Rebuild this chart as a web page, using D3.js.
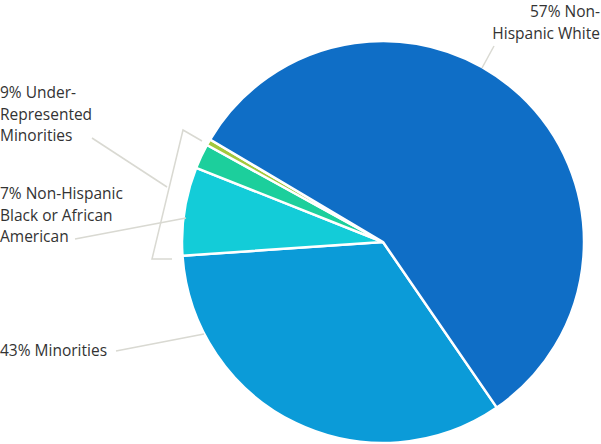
<!DOCTYPE html>
<html><head><meta charset="utf-8">
<script src="https://cdn.jsdelivr.net/npm/d3@7"></script>
<style>body{margin:0;background:#fff}svg{display:block}</style>
</head><body>
<script>
const categories = ["Minorities", "Non-Hispanic Black or African American", "Other A", "Other B", "Non-Hispanic White"];
const values = [33.5, 7.1, 2.0, 0.5, 56.9];
const colors = ["#0b9bd8", "#13ccd8", "#1ccf9c", "#a2c83c", "#0f6ec6"];
const labelLines = [
  ["57% Non-", "Hispanic White"],
  ["9% Under-", "Represented", "Minorities"],
  ["7% Non-Hispanic", "Black or African", "American"],
  ["43% Minorities"]
];

const W = 601, H = 444, cx = 383, cy = 242, R = 201;
const svg = d3.select("body").append("svg").attr("width", W).attr("height", H);
const deg = Math.PI / 180;
const pie = d3.pie().sort(null).value(d => d).startAngle(145.5 * deg).endAngle(145.5 * deg + 2 * Math.PI);
const arc = d3.arc().innerRadius(0).outerRadius(R);
const g = svg.append("g").attr("transform", `translate(${cx},${cy})`);
g.selectAll("path").data(pie(values)).join("path")
  .attr("d", arc).attr("fill", (d, i) => colors[i])
  .attr("stroke", "#fff").attr("stroke-width", 2.5).attr("stroke-linejoin", "round");

const lc = "#d9d9d2";
const lines = [
  [[482, 68], [494, 46]],
  [[92, 138], [167, 187]],
  [[75, 239], [186, 218]],
  [[116, 351], [204, 334]],
  [[202, 141], [183, 130], [152, 259], [172, 259]]
];
svg.selectAll("path.lead").data(lines).join("path").attr("class", "lead")
  .attr("d", d => d3.line()(d)).attr("fill", "none").attr("stroke", lc).attr("stroke-width", 1.5);

const font = "'Open Sans', sans-serif";
const fs = 15.5, lh = 21.7;
function block(lines, x, y, anchor) {
  const t = svg.append("text").attr("font-family", font).attr("font-size", fs).attr("fill", "#333").attr("text-anchor", anchor);
  lines.forEach((s, i) => t.append("tspan").attr("x", x).attr("y", y + i * lh).text(s));
}
block(labelLines[0], 600, 17, "end");
block(labelLines[1], 0, 98, "start");
block(labelLines[2], 0, 199, "start");
block(labelLines[3], 0, 356, "start");
</script>
</body></html>
